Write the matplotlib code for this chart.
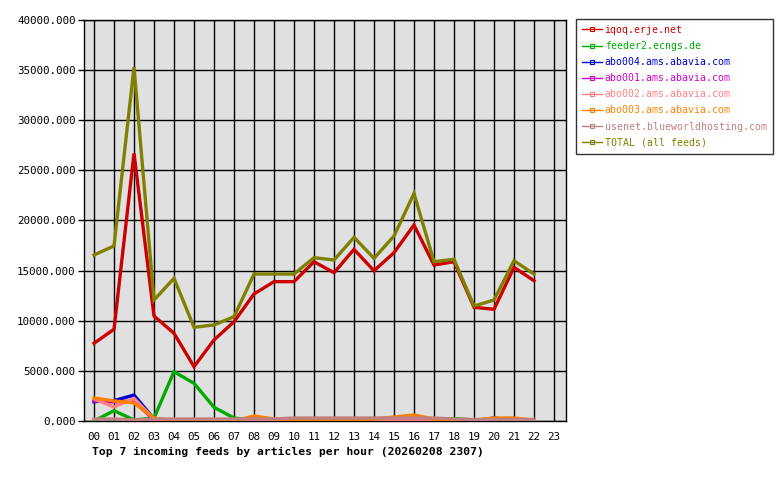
import numpy as np
import matplotlib.pyplot as plt

hours = ['00', '01', '02', '03', '04', '05', '06', '07', '08', '09', '10', '11',
         '12', '13', '14', '15', '16', '17', '18', '19', '20', '21', '22', '23']

feeds = ['iqoq.erje.net', 'feeder2.ecngs.de', 'abo004.ams.abavia.com',
         'abo001.ams.abavia.com', 'abo002.ams.abavia.com', 'abo003.ams.abavia.com',
         'usenet.blueworldhosting.com', 'TOTAL (all feeds)']
colors = ['#cc0000', '#00aa00', '#0000cc', '#cc00cc', '#ff8080', '#ff8000',
          '#c08080', '#808000']

# hours 00..22 (23 has no data yet)
iqoq = [7750, 9150, 26700, 10470, 8750, 5420, 8080, 9900, 12670, 13900, 13900, 15890,
        14790, 17120, 14990, 16790, 19550, 15560, 15890, 11340, 11140, 15330, 13990]
feeder2 = [0, 1030, 100, 300, 4920, 3760, 1370, 300, 30, 30, 30, 30,
           100, 50, 50, 100, 100, 30, 250, 100, 30, 30, 100]
abo004 = [1930, 2030, 2590, 200, 0, 0, 0, 0, 0, 0, 0, 0,
          0, 0, 0, 0, 0, 0, 0, 0, 300, 0, 0]
abo001 = [2000, 1900, 2000, 100, 0, 0, 0, 0, 0, 0, 0, 0,
          100, 0, 0, 0, 0, 0, 0, 0, 0, 0, 0]
abo002 = [2200, 1400, 2260, 200, 0, 0, 0, 0, 0, 0, 0, 0,
          0, 0, 0, 0, 0, 0, 0, 0, 0, 0, 0]
abo003 = [2300, 2000, 1800, 300, 0, 0, 0, 0, 500, 200, 100, 100,
          100, 100, 200, 400, 600, 200, 100, 100, 300, 300, 100]
usenet = [200, 200, 100, 200, 200, 200, 200, 200, 200, 200, 300, 300,
          300, 300, 300, 300, 300, 300, 200, 150, 150, 150, 150]
total = [16560, 17460, 35300, 12070, 14230, 9350, 9580, 10400, 14660, 14660, 14660, 16290,
         16060, 18320, 16230, 18450, 22700, 15890, 16130, 11470, 12070, 15990, 14660]

series = [iqoq, feeder2, abo004, abo001, abo002, abo003, usenet, total]

mono = 'DejaVu Sans Mono'
fig = plt.figure(figsize=(7.8, 4.8), dpi=100)
ax = fig.add_axes([84 / 780, 59 / 480, 482 / 780, 401 / 480])
ax.set_facecolor('#e0e0e0')

x = np.arange(len(iqoq))
handles = []
for name, vals, c in zip(feeds, series, colors):
    ax.plot(x, vals, color=c, lw=2.4, solid_joinstyle='miter', zorder=3)
    h, = ax.plot([], [], color=c, lw=1.0, marker='s', markersize=3,
                 markerfacecolor='none', markeredgecolor=c, markeredgewidth=0.8)
    handles.append(h)

ax.set_xlim(-0.5, 23.6)
ax.set_ylim(0, 40000)
ax.set_xticks(range(len(hours)))
ax.set_xticklabels(hours, family=mono, fontsize=7.8)
yt = np.arange(0, 40001, 5000)
ax.set_yticks(yt)
ax.set_yticklabels(['%.3f' % v for v in yt], family=mono, fontsize=7.8)
ax.tick_params(axis='x', length=0, pad=8)
ax.tick_params(axis='y', length=4, width=1, pad=2)
ax.grid(True, color='black', lw=1)
ax.set_axisbelow(True)
for s in ax.spines.values():
    s.set_linewidth(1)

fig.text(92 / 780, 1 - 452 / 480, 'Top 7 incoming feeds by articles per hour (20260208 2307)',
         family=mono, fontsize=8.2, fontweight='bold', va='center')

leg = fig.legend(handles, feeds, loc='upper left', bbox_to_anchor=(576 / 780, 1 - 19 / 480),
                 prop={'family': mono, 'size': 7.1}, frameon=True, fancybox=False,
                 handlelength=2.0, handletextpad=0.3, labelspacing=0.62,
                 borderpad=0.6, borderaxespad=0)
leg.get_frame().set_edgecolor('black')
leg.get_frame().set_linewidth(1)
for t, c in zip(leg.get_texts(), colors):
    t.set_color(c)

plt.savefig('out.png', dpi=100)
